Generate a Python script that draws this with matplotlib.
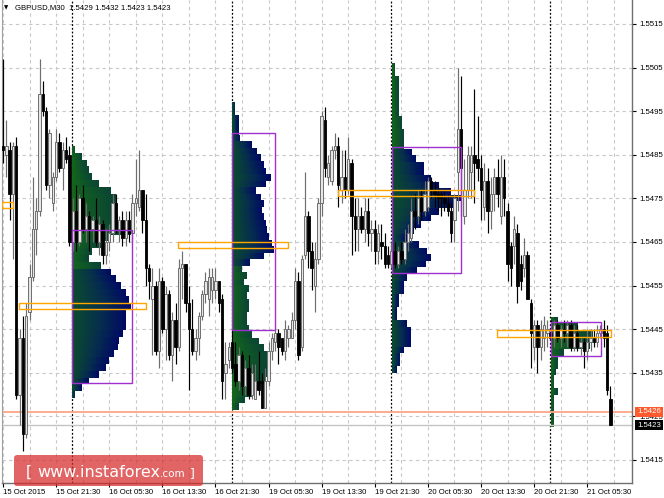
import numpy as np
import matplotlib
matplotlib.use("Agg")
import matplotlib.pyplot as plt
from matplotlib.colors import LinearSegmentedColormap
from matplotlib.patches import Rectangle, FancyBboxPatch
from matplotlib.transforms import IdentityTransform, blended_transform_factory

plt.rcParams["font.family"] = ["Liberation Sans", "DejaVu Sans"]

# ── GBPUSD M30 candles, prices in pips (x 1e-4) ─────────────────────
opens = [
    15487, 15485, 15486, 15476, 15487, 15430, 15443, 15421, 15449, 15457,
    15468, 15472, 15499, 15495, 15478, 15474, 15480, 15488, 15482, 15486,
    15485, 15465, 15472, 15465, 15475, 15468, 15471, 15468, 15470, 15465,
    15469, 15462, 15465, 15467, 15474, 15468, 15470, 15466, 15470, 15467,
    15474, 15473, 15477, 15470, 15459, 15452, 15455, 15440, 15456, 15445,
    15453, 15439, 15447, 15441, 15459, 15460, 15451, 15445, 15440, 15443,
    15448, 15453, 15452, 15454, 15454, 15456, 15452, 15435, 15438, 15442,
    15437, 15433, 15439, 15432, 15436, 15430, 15429, 15433, 15433, 15427,
    15433, 15440, 15442, 15444, 15443, 15440, 15443, 15443, 15447, 15456,
    15441, 15462, 15471, 15463, 15455, 15461, 15474, 15493, 15480, 15479,
    15486, 15487, 15477, 15480, 15477, 15483, 15471, 15468, 15471, 15468,
    15472, 15467, 15468, 15463, 15465, 15464, 15462, 15460, 15463, 15460,
    15463, 15461, 15465, 15466, 15472, 15471, 15475, 15472, 15473, 15479,
    15477, 15476, 15476, 15475, 15474, 15472, 15470, 15481, 15491, 15471,
    15477, 15481, 15485, 15484, 15482, 15473, 15479, 15472, 15476, 15480,
    15471, 15480, 15472, 15464, 15464, 15467, 15460, 15459, 15462, 15451,
    15441, 15446, 15441, 15443, 15444, 15444, 15443, 15446, 15443, 15445,
    15444, 15446, 15441, 15444, 15441, 15442, 15440, 15442, 15443, 15442,
    15444, 15445, 15444, 15429]
highs = [
    15507, 15493, 15488, 15488, 15489, 15445, 15448, 15451, 15460, 15480,
    15475, 15507, 15502, 15496, 15491, 15481, 15491, 15490, 15488, 15489,
    15487, 15475, 15478, 15476, 15478, 15474, 15472, 15471, 15475, 15471,
    15470, 15468, 15469, 15476, 15476, 15471, 15472, 15472, 15472, 15476,
    15484, 15486, 15477, 15476, 15460, 15459, 15456, 15459, 15457, 15455,
    15454, 15449, 15451, 15461, 15463, 15460, 15455, 15452, 15445, 15449,
    15454, 15458, 15459, 15459, 15459, 15456, 15453, 15442, 15442, 15445,
    15442, 15441, 15440, 15438, 15439, 15437, 15437, 15440, 15435, 15436,
    15442, 15444, 15445, 15445, 15443, 15447, 15446, 15449, 15459, 15458,
    15462, 15481, 15472, 15465, 15465, 15475, 15495, 15496, 15485, 15487,
    15490, 15489, 15486, 15486, 15489, 15484, 15475, 15475, 15473, 15475,
    15475, 15470, 15470, 15469, 15469, 15467, 15464, 15465, 15465, 15464,
    15465, 15468, 15469, 15475, 15476, 15477, 15477, 15479, 15480, 15480,
    15479, 15478, 15477, 15477, 15476, 15474, 15476, 15505, 15503, 15484,
    15487, 15487, 15500, 15494, 15485, 15483, 15482, 15480, 15482, 15484,
    15485, 15484, 15474, 15465, 15471, 15469, 15462, 15466, 15463, 15452,
    15447, 15447, 15447, 15448, 15447, 15447, 15447, 15447, 15446, 15447,
    15447, 15447, 15446, 15446, 15443, 15443, 15445, 15445, 15445, 15446,
    15446, 15447, 15446, 15432]
lows = [
    15483, 15480, 15470, 15461, 15429, 15423, 15417, 15420, 15447, 15456,
    15462, 15471, 15494, 15477, 15475, 15472, 15479, 15481, 15477, 15483,
    15464, 15463, 15463, 15464, 15467, 15465, 15463, 15465, 15464, 15462,
    15460, 15460, 15463, 15465, 15467, 15465, 15464, 15464, 15465, 15465,
    15471, 15472, 15467, 15455, 15452, 15439, 15439, 15436, 15444, 15438,
    15438, 15433, 15437, 15440, 15452, 15449, 15431, 15439, 15438, 15439,
    15447, 15451, 15448, 15451, 15452, 15449, 15429, 15429, 15436, 15435,
    15432, 15431, 15430, 15430, 15429, 15429, 15429, 15430, 15427, 15427,
    15432, 15438, 15440, 15437, 15439, 15438, 15441, 15443, 15445, 15438,
    15440, 15461, 15459, 15454, 15449, 15460, 15471, 15480, 15478, 15478,
    15484, 15473, 15474, 15475, 15476, 15462, 15463, 15463, 15467, 15465,
    15464, 15463, 15460, 15460, 15461, 15459, 15459, 15459, 15459, 15459,
    15460, 15460, 15463, 15465, 15468, 15469, 15470, 15471, 15472, 15475,
    15473, 15472, 15471, 15472, 15471, 15465, 15465, 15472, 15471, 15469,
    15475, 15475, 15474, 15479, 15470, 15470, 15467, 15468, 15472, 15473,
    15469, 15471, 15456, 15455, 15460, 15451, 15454, 15457, 15452, 15436,
    15438, 15435, 15438, 15440, 15441, 15441, 15441, 15442, 15441, 15442,
    15441, 15440, 15440, 15440, 15439, 15436, 15438, 15440, 15441, 15441,
    15443, 15441, 15430, 15423]
closes = [
    15486, 15487, 15476, 15487, 15430, 15443, 15421, 15448, 15457, 15468,
    15472, 15499, 15495, 15478, 15490, 15480, 15488, 15482, 15486, 15484,
    15465, 15472, 15465, 15475, 15468, 15471, 15468, 15470, 15465, 15469,
    15462, 15465, 15467, 15474, 15468, 15470, 15466, 15470, 15467, 15474,
    15475, 15477, 15470, 15459, 15456, 15455, 15440, 15456, 15445, 15453,
    15439, 15447, 15441, 15459, 15460, 15451, 15445, 15440, 15443, 15448,
    15453, 15456, 15457, 15457, 15456, 15451, 15433, 15437, 15441, 15436,
    15433, 15439, 15432, 15436, 15430, 15435, 15433, 15431, 15427, 15433,
    15440, 15443, 15444, 15441, 15440, 15445, 15445, 15447, 15456, 15439,
    15461, 15471, 15463, 15459, 15461, 15474, 15494, 15482, 15483, 15486,
    15487, 15478, 15480, 15477, 15484, 15471, 15468, 15471, 15468, 15472,
    15467, 15468, 15463, 15467, 15464, 15460, 15460, 15463, 15460, 15463,
    15461, 15465, 15467, 15472, 15471, 15475, 15472, 15476, 15479, 15477,
    15476, 15475, 15475, 15474, 15472, 15467, 15475, 15491, 15482, 15477,
    15485, 15485, 15483, 15482, 15477, 15479, 15472, 15476, 15480, 15476,
    15480, 15475, 15460, 15459, 15468, 15455, 15456, 15462, 15452, 15444,
    15446, 15441, 15445, 15446, 15445, 15443, 15446, 15443, 15445, 15444,
    15446, 15441, 15444, 15441, 15442, 15440, 15442, 15443, 15442, 15444,
    15445, 15443, 15431, 15423]

# x axis: one unit per M30 bar
tick_bars = [0, 16, 32, 48, 64, 80, 96, 112, 128, 144, 160, 176]
tick_labels = ["15 Oct 2015", "15 Oct 21:30", "16 Oct 05:30", "16 Oct 13:30",
               "16 Oct 21:30", "19 Oct 05:30", "19 Oct 13:30", "19 Oct 21:30",
               "20 Oct 05:30", "20 Oct 13:30", "20 Oct 21:30", "21 Oct 05:30"]
day_starts = [21, 69, 117, 165]
price_ticks = [1.5415, 1.5425, 1.5435, 1.5445, 1.5455, 1.5465,
               1.5475, 1.5485, 1.5495, 1.5505, 1.5515]

# ── daily market profiles (row widths in bars, top -> bottom) ──────
prof_x0 = [20.9, 68.9, 117.2, 165.0]
prof_top = [1.54868, 1.54971, 1.55061, 1.54478]
prof_bottom = [1.54292, 1.54265, 1.54350, 1.54226]
prof_w1 = [1, 3, 4.5, 5, 6, 8, 11.5, 13, 13, 13, 13.5, 14.5, 17.5, 11.5, 8.5,
           6, 5, 8.5, 11.5, 13, 14.5, 16, 17, 17.5, 16, 16, 16, 15, 14, 13.5,
           12.5, 11, 10, 8, 5, 3, 1]
prof_w2 = [1, 1, 2, 2, 2, 2.5, 6, 7.5, 8.5, 9.5, 10, 11.5, 10, 7, 8.5, 9.5, 9,
           9.5, 10, 10.5, 11, 12, 12.5, 9.5, 5.5, 3, 4.5, 3.5, 5, 4.5, 5, 5,
           4.5, 4.5, 5, 6, 8, 9.5, 11, 11, 10.5, 10.5, 10, 8, 6, 4, 2]
prof_w3 = [1, 1, 2, 2, 2, 2, 2, 2, 3, 3, 3.5, 3.5, 3.5, 6, 7, 9.5, 9.5, 11.5,
           14, 17.5, 20.5, 18.5, 14, 11.5, 8.5, 6.5, 4.5, 8, 10.5, 11.5, 10,
           7.5, 4.5, 3.5, 3.5, 2, 2, 1.5, 1.5, 4.5, 5.5, 5.5, 5.5, 3.5, 2.5,
           2.5, 1.5]
prof_w4 = [2, 8, 12.5, 12.5, 11.5, 4, 2, 2, 1.5, 1, 1, 2, 1, 1, 1, 1, 1]
# where the later (navy) part of each session sits
prof_late = [("below", 1.54595), ("above", 1.54600), ("below", 1.54860), (None, 0)]

# value areas: (bar from, bar to, price low, price high)
va_boxes = [(20.8, 38.9, 1.54326, 1.54677), (69.0, 81.9, 1.54448, 1.54900),
            (117.2, 138.0, 1.54579, 1.54868), (165.0, 180.1, 1.54388, 1.54466)]
# points of control: (bar from, bar to, price)
poc_boxes = [(-0.3, 3.0, 1.54734), (4.8, 43.1, 1.54503), (52.7, 85.8, 1.54643),
             (100.9, 141.9, 1.54762), (148.8, 183.1, 1.54440)]
level_line = 1.5426
bid = 1.5423
header = "GBPUSD,M30  1.5429 1.5432 1.5423 1.5423"

o = np.array(opens) / 1e4
h = np.array(highs) / 1e4
l = np.array(lows) / 1e4
c = np.array(closes) / 1e4
idx = np.arange(len(o))

fig = plt.figure(figsize=(6.64, 4.98), dpi=100)
ax = fig.add_axes([2 / 664, 15 / 498, 630 / 664, 483 / 498])
ax.set_facecolor("white")

# grid + day separators
for p in price_ticks:
    ax.axhline(p, color="#c8c8c8", lw=0.8, ls=(0, (3, 3)), zorder=0)
for b in range(0, 190, 8):
    ax.axvline(b, color="#c8c8c8", lw=0.8, ls=(0, (3, 3)), zorder=0)
for b in day_starts:
    ax.axvline(b - 0.1, color="black", lw=0.9, ls=(0, (1.5, 1.5)), zorder=0.5)

# profiles
cmap = LinearSegmentedColormap.from_list(
    "tpo", ["#167016", "#0c4a30", "#062e4e", "#000a64"])
for x0, top, bot, w, (side, lev) in zip(prof_x0, prof_top, prof_bottom,
                                          [prof_w1, prof_w2, prof_w3, prof_w4],
                                          prof_late):
    w = np.asarray(w, float)
    n = len(w)
    centers = top - (np.arange(n) + 0.5) * (top - bot) / n
    if side == "below":
        late = centers < lev
    elif side == "above":
        late = centers > lev
    else:
        late = np.zeros(n, bool)
    res = 0.25
    ncol = int(np.ceil(w.max() / res))
    xc = (np.arange(ncol) + 0.5) * res
    f = xc[None, :] / w[:, None]
    v = np.where(late[:, None], 0.3 + 0.7 * f, 0.08 + 0.32 * f)
    v = np.ma.masked_where(f > 1, v)
    ax.imshow(v, cmap=cmap, vmin=0, vmax=1, origin="upper", aspect="auto",
              interpolation="nearest", extent=(x0, x0 + ncol * res, bot, top),
              zorder=1)

ax.axhline(level_line, color="#ffa585", lw=1.3, zorder=2)
ax.axhline(bid, color="#c4c4c4", lw=1.0, zorder=2)

# candles
up = c >= o
lo_b = np.minimum(o, c)
hb = np.maximum(np.abs(c - o), 0.00002)
ax.vlines(idx[up], l[up], h[up], color="#6e6e6e", lw=0.85, zorder=3)
ax.vlines(idx[~up], l[~up], h[~up], color="black", lw=0.85, zorder=3)
ax.bar(idx[up], hb[up], 0.72, bottom=lo_b[up], facecolor="#e6e6e6",
       edgecolor="#6e6e6e", lw=0.7, zorder=4)
ax.bar(idx[~up], hb[~up], 0.72, bottom=lo_b[~up], facecolor="black",
       edgecolor="black", lw=0.6, zorder=4)

# value area / POC boxes
for x1, x2, p1, p2 in va_boxes:
    ax.add_patch(Rectangle((x1, p1), x2 - x1, p2 - p1, fill=False,
                           ec="#a030d0", lw=1.0, zorder=5))
for x1, x2, p in poc_boxes:
    ax.add_patch(Rectangle((x1, p - 0.00007), x2 - x1, 0.00014, fill=False,
                           ec="#ffa500", lw=1.0, zorder=5, clip_on=True))

ax.set_xlim(-0.3, 189.5)
ax.set_ylim(1.54097, 1.55205)

ax.yaxis.tick_right()
ax.set_yticks(price_ticks)
ax.set_yticklabels([f"{p:.4f}" for p in price_ticks])
ax.tick_params(axis="y", length=3, width=0.8, pad=2, labelsize=5.6)
ax.set_xticks(tick_bars)
ax.set_xticklabels(tick_labels, ha="left")
ax.tick_params(axis="x", length=3, width=0.8, pad=1.5, labelsize=5.6)
ax.spines["top"].set_visible(False)
ax.spines["left"].set_color("#a0a0a0")
for s in ("right", "bottom"):
    ax.spines[s].set_color("#707070")
    ax.spines[s].set_linewidth(1.0)

trans = blended_transform_factory(ax.transAxes, ax.transData)
for price, fc in [(level_line, "#ff5a2d"), (bid, "black")]:
    ax.text(1.008, price, f"{price:.4f}", transform=trans, ha="left",
            va="center", fontsize=5.6, color="white", clip_on=False, zorder=10,
            bbox=dict(boxstyle="square,pad=0.25", fc=fc, ec="none"))

# header
fig.text(4, 490, "\u25BC", transform=IdentityTransform(), fontsize=4,
         family="DejaVu Sans", va="center")
fig.text(15, 490, header, transform=IdentityTransform(), fontsize=5.6,
         va="center")

# watermark
fig.add_artist(FancyBboxPatch((14, 12), 189, 31,
                              boxstyle="round,pad=0,rounding_size=3",
                              transform=IdentityTransform(), fc="#d82a2a",
                              ec="none", alpha=0.72, zorder=20))
wm = dict(transform=IdentityTransform(), color="white", va="baseline",
          family="DejaVu Sans", zorder=21)
fig.text(26, 21, "[", fontsize=11, **wm)
t1 = fig.text(37, 21, "www.instaforex", fontsize=11.5, **wm)
r = fig.canvas.get_renderer()
bb = t1.get_window_extent(renderer=r)
t2 = fig.text(bb.x1, 21, ".com", fontsize=7.5, **wm)
bb2 = t2.get_window_extent(renderer=r)
fig.text(bb2.x1 + 4, 21, "]", fontsize=9, **wm)

fig.savefig("out.png", dpi=100)
